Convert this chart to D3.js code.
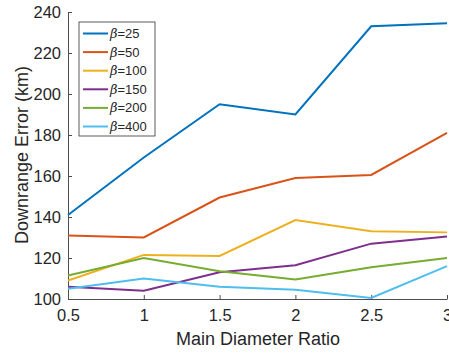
<!DOCTYPE html>
<html>
<head>
<meta charset="utf-8">
<script src="https://cdn.jsdelivr.net/npm/d3@7"></script>
<style>
  body { margin: 0; background: #fff; }
  svg { font-family: "Liberation Sans", Arial, sans-serif; }
</style>
</head>
<body>
<div id="chart"></div>
<script>
const ratios = [0.5, 1, 1.5, 2, 2.5, 3];
const betas = ['25', '50', '100', '150', '200', '400'];
const colors = ['#0072BD', '#D95319', '#EDB120', '#7E2F8E', '#77AC30', '#4DBEEE'];
const beta25 = [141, 169, 195, 190, 233, 234.5];
const beta50 = [131, 130, 149.5, 159, 160.5, 181];
const beta100 = [109, 121.5, 121, 138.5, 133, 132.5];
const beta150 = [106, 104, 113, 116.5, 127, 130.5];
const beta200 = [111.5, 120, 113.5, 109.5, 115.5, 120];
const beta400 = [105, 110, 106, 104.5, 100.5, 116];
const xTicks = [0.5, 1, 1.5, 2, 2.5, 3];
const yTicks = [100, 120, 140, 160, 180, 200, 220, 240];

const series = [beta25, beta50, beta100, beta150, beta200, beta400];

const width = 449, height = 354;
const margin = { top: 12, right: 2, bottom: 55, left: 68 };
const axisColor = '#4d4d4d';

const svg = d3.select('#chart').append('svg')
  .attr('width', width)
  .attr('height', height);

const x = d3.scaleLinear().domain([0.5, 3]).range([margin.left, width - margin.right]);
const y = d3.scaleLinear().domain([100, 240]).range([height - margin.bottom, margin.top]);

// X axis (ticks inward)
const gx = svg.append('g')
  .attr('transform', `translate(0,${height - margin.bottom})`)
  .call(d3.axisBottom(x).tickValues(xTicks).tickFormat(d3.format('')).tickSizeInner(-4).tickSizeOuter(0).tickPadding(10));
gx.selectAll('text').attr('font-size', 16.5).attr('fill', '#262626');
gx.selectAll('line, path').attr('stroke', axisColor);

// Y axis
const gy = svg.append('g')
  .attr('transform', `translate(${margin.left},0)`)
  .call(d3.axisLeft(y).tickValues(yTicks).tickSizeInner(-4).tickSizeOuter(0).tickPadding(7));
gy.selectAll('text').attr('font-size', 16.5).attr('fill', '#262626');
gy.selectAll('line, path').attr('stroke', axisColor);

// Axis labels
svg.append('text')
  .attr('x', 258)
  .attr('y', 345)
  .attr('text-anchor', 'middle')
  .attr('font-size', 18)
  .attr('fill', '#262626')
  .text('Main Diameter Ratio');

svg.append('text')
  .attr('transform', `translate(28,155) rotate(-90)`)
  .attr('text-anchor', 'middle')
  .attr('font-size', 18)
  .attr('fill', '#262626')
  .text('Downrange Error (km)');

// Lines
const line = d3.line()
  .x((d, i) => x(ratios[i]))
  .y(d => y(d));

series.forEach((s, i) => {
  svg.append('path')
    .datum(s)
    .attr('fill', 'none')
    .attr('stroke', colors[i])
    .attr('stroke-width', 2)
    .attr('d', line);
});

// Legend
const legend = svg.append('g').attr('transform', 'translate(79,22)');
legend.append('rect')
  .attr('width', 76).attr('height', 114)
  .attr('fill', '#fff')
  .attr('stroke', '#333')
  .attr('stroke-width', 0.8);

betas.forEach((b, i) => {
  const ly = 11.5 + i * 18.6;
  legend.append('line')
    .attr('x1', 4).attr('x2', 29)
    .attr('y1', ly).attr('y2', ly)
    .attr('stroke', colors[i])
    .attr('stroke-width', 2);
  const t = legend.append('text')
    .attr('x', 31).attr('y', ly + 4.5)
    .attr('font-size', 13)
    .attr('fill', '#262626');
  t.append('tspan').attr('font-style', 'italic').attr('font-family', '"DejaVu Serif", serif').text('β');
  t.append('tspan').text('=' + b);
});
</script>
</body>
</html>
